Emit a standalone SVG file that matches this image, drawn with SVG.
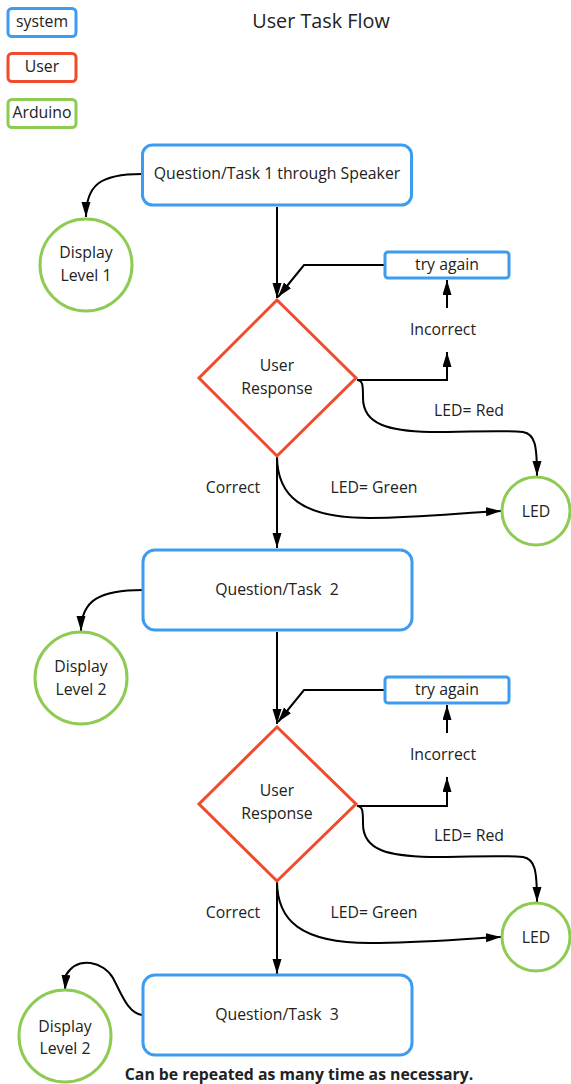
<svg xmlns="http://www.w3.org/2000/svg" width="571" height="1084" viewBox="0 0 571 1084">
<style>
text{font-family:"Open Sans","Liberation Sans",sans-serif;fill:#222;text-anchor:middle}
.sys{fill:#fff;stroke:#3d9cf0;stroke-width:3}
.usr{fill:#fff;stroke:#ef4b2c;stroke-width:3}
.ard{fill:#fff;stroke:#8dcb52;stroke-width:3}
.c{fill:none;stroke:#000;stroke-width:2}
.t14{font-size:15.8px}
</style>
<defs>
<marker id="ah" markerUnits="userSpaceOnUse" markerWidth="16" markerHeight="10" refX="15" refY="4.5" orient="auto">
<path d="M0,0 L15,4.5 L0,9 z" fill="#000"/>
</marker>
</defs>
<rect width="571" height="1084" fill="#fff"/>
<g id="legend">
<g id="legend-system"><rect class="sys" x="8" y="8.5" width="68" height="28" rx="4"/><text class="t14" x="42" y="27">system</text></g>
<g id="legend-user"><rect class="usr" x="8" y="53.5" width="68" height="28" rx="4"/><text class="t14" x="42" y="72">User</text></g>
<g id="legend-arduino"><rect class="ard" x="8" y="99.5" width="68" height="28" rx="4"/><text class="t14" x="42" y="118">Arduino</text></g>
</g>
<g id="title"><text x="321" y="28" font-size="19.8px">User Task Flow</text></g>
<g id="connectors">
<path class="c" d="M142,174 C100,174 86,185 86,217" marker-end="url(#ah)"/>
<path class="c" d="M277,207 L277,298" marker-end="url(#ah)"/>
<path class="c" d="M385,265 L304,265 L278,297" marker-end="url(#ah)"/>
<path class="c" d="M357,380 L447,380 L447,352" marker-end="url(#ah)"/>
<path class="c" d="M447,308 L447,280" marker-end="url(#ah)"/>
<path class="c" d="M357,380 C363,380 363,386 363,398 C363,425 390,431 430,432 C470,432 500,430 523,432 C535,434 537,445 537,476" marker-end="url(#ah)"/>
<path class="c" d="M277,456 C277,495 300,518 370,518 C420,518 460,513 501,511" marker-end="url(#ah)"/>
<path class="c" d="M277,456 L277,548" marker-end="url(#ah)"/>

<path class="c" d="M143,590 C100,590 81,600 81,631" marker-end="url(#ah)"/>
<path class="c" d="M277,632 L277,724" marker-end="url(#ah)"/>
<path class="c" d="M385,690 L304,690 L278,722" marker-end="url(#ah)"/>
<path class="c" d="M357,806 L447,806 L447,777" marker-end="url(#ah)"/>
<path class="c" d="M447,733 L447,705" marker-end="url(#ah)"/>
<path class="c" d="M357,806 C363,806 363,812 363,824 C363,851 390,856 430,857 C470,857 500,855 523,857 C535,859 537,870 537,902" marker-end="url(#ah)"/>
<path class="c" d="M277,881 C277,920 300,943 370,943 C420,943 460,939 501,937" marker-end="url(#ah)"/>
<path class="c" d="M277,881 L277,974" marker-end="url(#ah)"/>

<path class="c" d="M142,1015 C128,1013 122,995 113,978 C104,962 78,955 66,975 L65,990" marker-end="url(#ah)"/>
</g>
<g id="labels">
<text class="t14" x="443" y="335">Incorrect</text>
<text class="t14" x="469" y="416">LED= Red</text>
<text class="t14" x="374" y="493">LED= Green</text>
<text class="t14" x="233" y="493">Correct</text>
<text class="t14" x="443" y="760">Incorrect</text>
<text class="t14" x="469" y="841">LED= Red</text>
<text class="t14" x="374" y="918">LED= Green</text>
<text class="t14" x="233" y="918">Correct</text>
</g>
<g id="task1"><rect class="sys" x="142.5" y="145" width="269" height="60" rx="10"/><text class="t14" x="277" y="179">Question/Task 1 through Speaker</text></g>
<g id="display1"><circle class="ard" cx="86" cy="265" r="46"/><text class="t14" x="86" y="258">Display</text><text class="t14" x="86" y="281">Level 1</text></g>
<g id="tryagain1"><rect class="sys" x="385" y="252" width="124" height="26" rx="3"/><text class="t14" x="447" y="270">try again</text></g>
<g id="response1"><polygon class="usr" points="277,300 356,378 277,456 199,378"/><text class="t14" x="277" y="371">User</text><text class="t14" x="277" y="394">Response</text></g>
<g id="led1"><circle class="ard" cx="536" cy="511" r="34"/><text class="t14" x="536" y="517">LED</text></g>

<g id="task2"><rect class="sys" x="143" y="550" width="269" height="80" rx="12"/><text class="t14" x="277" y="595" xml:space="preserve">Question/Task  2</text></g>
<g id="display2"><circle class="ard" cx="81" cy="678" r="46"/><text class="t14" x="81" y="672">Display</text><text class="t14" x="81" y="695">Level 2</text></g>
<g id="tryagain2"><rect class="sys" x="385" y="677" width="124" height="26" rx="3"/><text class="t14" x="447" y="695">try again</text></g>
<g id="response2"><polygon class="usr" points="277,727 356,804 277,881 199,804"/><text class="t14" x="277" y="796">User</text><text class="t14" x="277" y="819">Response</text></g>
<g id="led2"><circle class="ard" cx="536" cy="937" r="34"/><text class="t14" x="536" y="943">LED</text></g>

<g id="task3"><rect class="sys" x="143" y="975" width="269" height="80" rx="12"/><text class="t14" x="277" y="1020" xml:space="preserve">Question/Task  3</text></g>
<g id="display3"><circle class="ard" cx="65" cy="1036" r="46"/><text class="t14" x="65" y="1032">Display</text><text class="t14" x="65" y="1054">Level 2</text></g>
<g id="footer"><text x="299" y="1080" font-size="15.8px" font-weight="bold">Can be repeated as many time as necessary.</text></g>
</svg>
